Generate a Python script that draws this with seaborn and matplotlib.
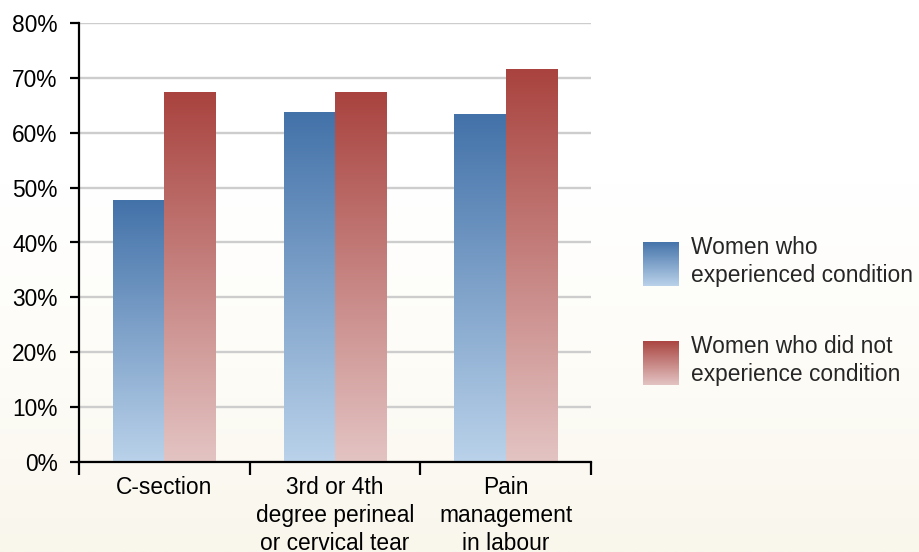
import numpy as np
import pandas as pd
import matplotlib
matplotlib.use("Agg")
import matplotlib.pyplot as plt
import seaborn as sns
from matplotlib.colors import LinearSegmentedColormap
from matplotlib.patches import Patch
from matplotlib.ticker import PercentFormatter

# data
categories = ["C-section", "3rd or 4th\ndegree perineal\nor cervical tear", "Pain\nmanagement\nin labour"]
series = ["Women who\nexperienced condition", "Women who did not\nexperience condition"]
experienced = [47.6, 63.6, 63.3]
not_experienced = [67.3, 67.3, 71.5]
y_ticks = [0, 10, 20, 30, 40, 50, 60, 70, 80]

FS = 16.4

sns.set_theme(style="white")
plt.rcParams['font.family'] = ['Liberation Sans', 'DejaVu Sans']
plt.rcParams['font.size'] = FS

df = pd.DataFrame({
    "category": categories * 2,
    "group": [series[0]] * 3 + [series[1]] * 3,
    "value": experienced + not_experienced,
})

# gradient colormaps (bottom light -> top dark)
blue_cmap = LinearSegmentedColormap.from_list("blue", ["#bad2ea", "#4372a9"])
red_cmap = LinearSegmentedColormap.from_list("red", ["#e3c4c3", "#a9433f"])
grad = np.linspace(0, 1, 256).reshape(-1, 1)

fig = plt.figure(figsize=(9.19, 5.52), dpi=100)

# background: white fading into cream at the bottom
bg = fig.add_axes([0, 0, 1, 1], zorder=-10)
bg_cmap = LinearSegmentedColormap.from_list("bg", ["#f9f6ec", "#fdfcf7", "#ffffff", "#ffffff"])
bg.imshow(grad, cmap=bg_cmap, origin="lower", aspect="auto", extent=[0, 1, 0, 1])
bg.axis("off")

ax = fig.add_axes([79 / 919, 1 - 462 / 552, (591 - 79) / 919, (462 - 23) / 552])
ax.patch.set_alpha(0)

sns.barplot(data=df, x="category", y="value", hue="group", order=categories,
            hue_order=series, width=0.6, palette=["#4372a9", "#a9433f"],
            legend=False, ax=ax, saturation=1)

# replace flat fills with vertical gradients
for i, bar in enumerate(ax.patches):
    x0, x1 = bar.get_x(), bar.get_x() + bar.get_width()
    y0, y1 = bar.get_y(), bar.get_y() + bar.get_height()
    cmap = blue_cmap if i < 3 else red_cmap
    ax.imshow(grad, cmap=cmap, origin="lower", aspect="auto",
              extent=[x0, x1, y0, y1], zorder=2)
    bar.set_visible(False)

ax.set_xlim(-0.5, 2.5)
ax.set_ylim(0, 80)
ax.set_yticks(y_ticks)
ax.yaxis.set_major_formatter(PercentFormatter(decimals=0))
ax.set_xlabel("")
ax.set_ylabel("")

ax.grid(axis="y", color="#cdcdcd", linewidth=1.7, zorder=0)
ax.set_axisbelow(True)
sns.despine(ax=ax)
for s in ["left", "bottom"]:
    ax.spines[s].set_color("black")
    ax.spines[s].set_linewidth(1.6)
    ax.spines[s].set_zorder(5)

ax.tick_params(axis="y", which="major", left=True, length=6.5, width=1.6,
               color="black", pad=9, labelsize=FS, labelcolor="black")
ax.set_xticks([-0.5, 0.5, 1.5, 2.5], minor=True)
ax.tick_params(axis="x", which="minor", bottom=True, length=9, width=1.6, color="black")
ax.tick_params(axis="x", which="major", bottom=False, length=0, pad=10,
               labelsize=FS, labelcolor="black")
for t in ax.get_xticklabels():
    t.set_linespacing(1.27)

handles = [Patch(facecolor="#4372a9"), Patch(facecolor="#a9433f")]
leg = fig.legend(handles, series, loc="center left", bbox_to_anchor=(643 / 919, 1 - 311 / 552),
                 frameon=False, borderpad=0, borderaxespad=0, handlelength=1.54,
                 handleheight=2.6, handletextpad=0.56, labelspacing=2.13, fontsize=FS)
for t in leg.get_texts():
    t.set_linespacing(1.25)

# gradient legend swatches
fig.canvas.draw()
inv = fig.transFigure.inverted()
for p, cmap in zip(leg.get_patches(), [blue_cmap, red_cmap]):
    bb = p.get_window_extent().transformed(inv)
    sw = fig.add_axes([bb.x0, bb.y0, bb.width, bb.height])
    sw.imshow(grad, cmap=cmap, origin="lower", aspect="auto")
    sw.axis("off")
    p.set_visible(False)

fig.savefig("out.png", dpi=100)
